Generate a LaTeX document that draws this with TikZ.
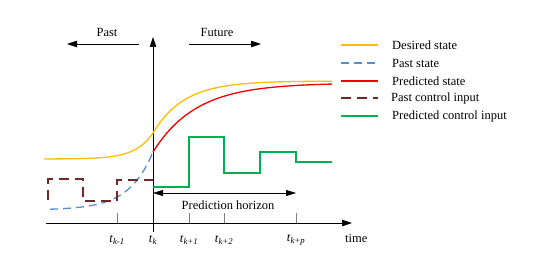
\documentclass[tikz,border=0pt]{standalone}
\usepackage{fontspec}
\setmainfont{Liberation Serif}
\usetikzlibrary{arrows.meta,positioning}
\definecolor{desired}{RGB}{255,190,0}
\definecolor{pastst}{RGB}{85,142,213}
\definecolor{predst}{RGB}{240,0,0}
\definecolor{pastin}{RGB}{110,40,40}
\definecolor{predin}{RGB}{0,176,80}
\begin{document}
\begin{tikzpicture}[x=1pt,y=-1pt, every node/.style={font=\fontsize{12.5}{15}\selectfont,inner sep=1pt},
  ax/.style={-{Triangle[length=10pt,width=6.5pt]},semithick},
  hz/.style={{Triangle[length=10pt,width=6pt]}-{Triangle[length=10pt,width=6pt]},thin},
  tk/.style={draw=gray,thin},
  ds/.style={draw=desired,line width=1.3pt},
  ps/.style={draw=pastst,line width=1.3pt,dash pattern=on 8pt off 5pt},
  pr/.style={draw=predst,line width=1.3pt},
  pc/.style={draw=pastin,line width=1.3pt,dash pattern=on 10pt off 6pt},
  pu/.style={draw=predin,line width=1.3pt},
  lg/.style={anchor=west}]
  \useasboundingbox (0,0) rectangle (545,272);
  % axes
  \coordinate (tstart) at (46,223);
  \coordinate (tend) at (352,223);
  \coordinate (ybot) at (153,232);
  \coordinate (ytop) at (153,37);
  \draw[ax] (tstart) -- (tend);
  \draw[ax] (ybot) -- (ytop);
  \node[anchor=west] (time) at (344,238) {time};
  % ticks
  \foreach \x/\s/\n in {117/k-1/km1,189/k+1/kp1,224/k+2/kp2,296/k+p/kpp} {
    \draw[tk] (\x,213) -- (\x,223);
    \node (t\n) at (\x,240) {\textit{t}\textsubscript{\textit{\s}}};
  }
  \node (tk) at (153,240) {\textit{t}\textsubscript{\textit{k}}};
  % past / future
  \coordinate (pastR) at (139,44);
  \coordinate (pastL) at (67,44);
  \coordinate (futL) at (189,44);
  \coordinate (futR) at (261,44);
  \draw[ax,thin] (pastR) -- (pastL);
  \draw[ax,thin] (futL) -- (futR);
  \node (past) at (107,32) {Past};
  \node (future) at (217,32) {Future};
  % curves
  \draw[ds] plot[domain=44:153,samples=40] (\x,{159-26*exp((\x-153)/17.6)})
    -- plot[domain=153:332,samples=50] (\x,{81+52*exp(-(\x-153)/31)});
  \draw[pr] plot[domain=153:332,samples=50] (\x,{83+69*exp(-(\x-153)/43)});
  \draw[ps] plot[domain=50:153,samples=40] (\x,{210-58*exp((\x-153)/24)});
  \draw[pc] (48,200) -- (48,179) -- (83,179) -- (83,201) -- (117,201) -- (117,180) -- (153,180);
  \draw[pu] (153,187) -- (189,187) -- (189,137) -- (224,137) -- (224,173) -- (260,173) -- (260,152) -- (296,152) -- (296,162) -- (332,162);
  % horizon
  \coordinate (hzL) at (153,193);
  \coordinate (hzR) at (296,193);
  \draw[hz] (hzL) -- (hzR);
  \node (horizon) at (228,205) {Prediction horizon};
  % legend
  \coordinate (la) at (341,45);  \coordinate (ra) at (378,45);
  \coordinate (lb) at (341,63);  \coordinate (rb) at (378,63);
  \coordinate (lc) at (341,81);  \coordinate (rc) at (378,81);
  \coordinate (ld) at (341,98);  \coordinate (rd) at (378,98);
  \coordinate (le) at (341,116); \coordinate (re) at (378,116);
  \draw[ds,line width=1.7pt] (la) -- (ra);
  \draw[ps,line width=1.7pt] (lb) -- (rb);
  \draw[pr,line width=1.7pt] (lc) -- (rc);
  \draw[pc,line width=1.7pt] (ld) -- (rd);
  \draw[pu,line width=1.7pt] (le) -- (re);
  \node[lg] (lega) at (391,45) {Desired state};
  \node[lg] (legb) at (391,63) {Past state};
  \node[lg] (legc) at (391,81) {Predicted state};
  \node[lg] (legd) at (390,98) {Past control input};
  \node[lg] (lege) at (391,116) {Predicted control input};
\end{tikzpicture}
\end{document}
